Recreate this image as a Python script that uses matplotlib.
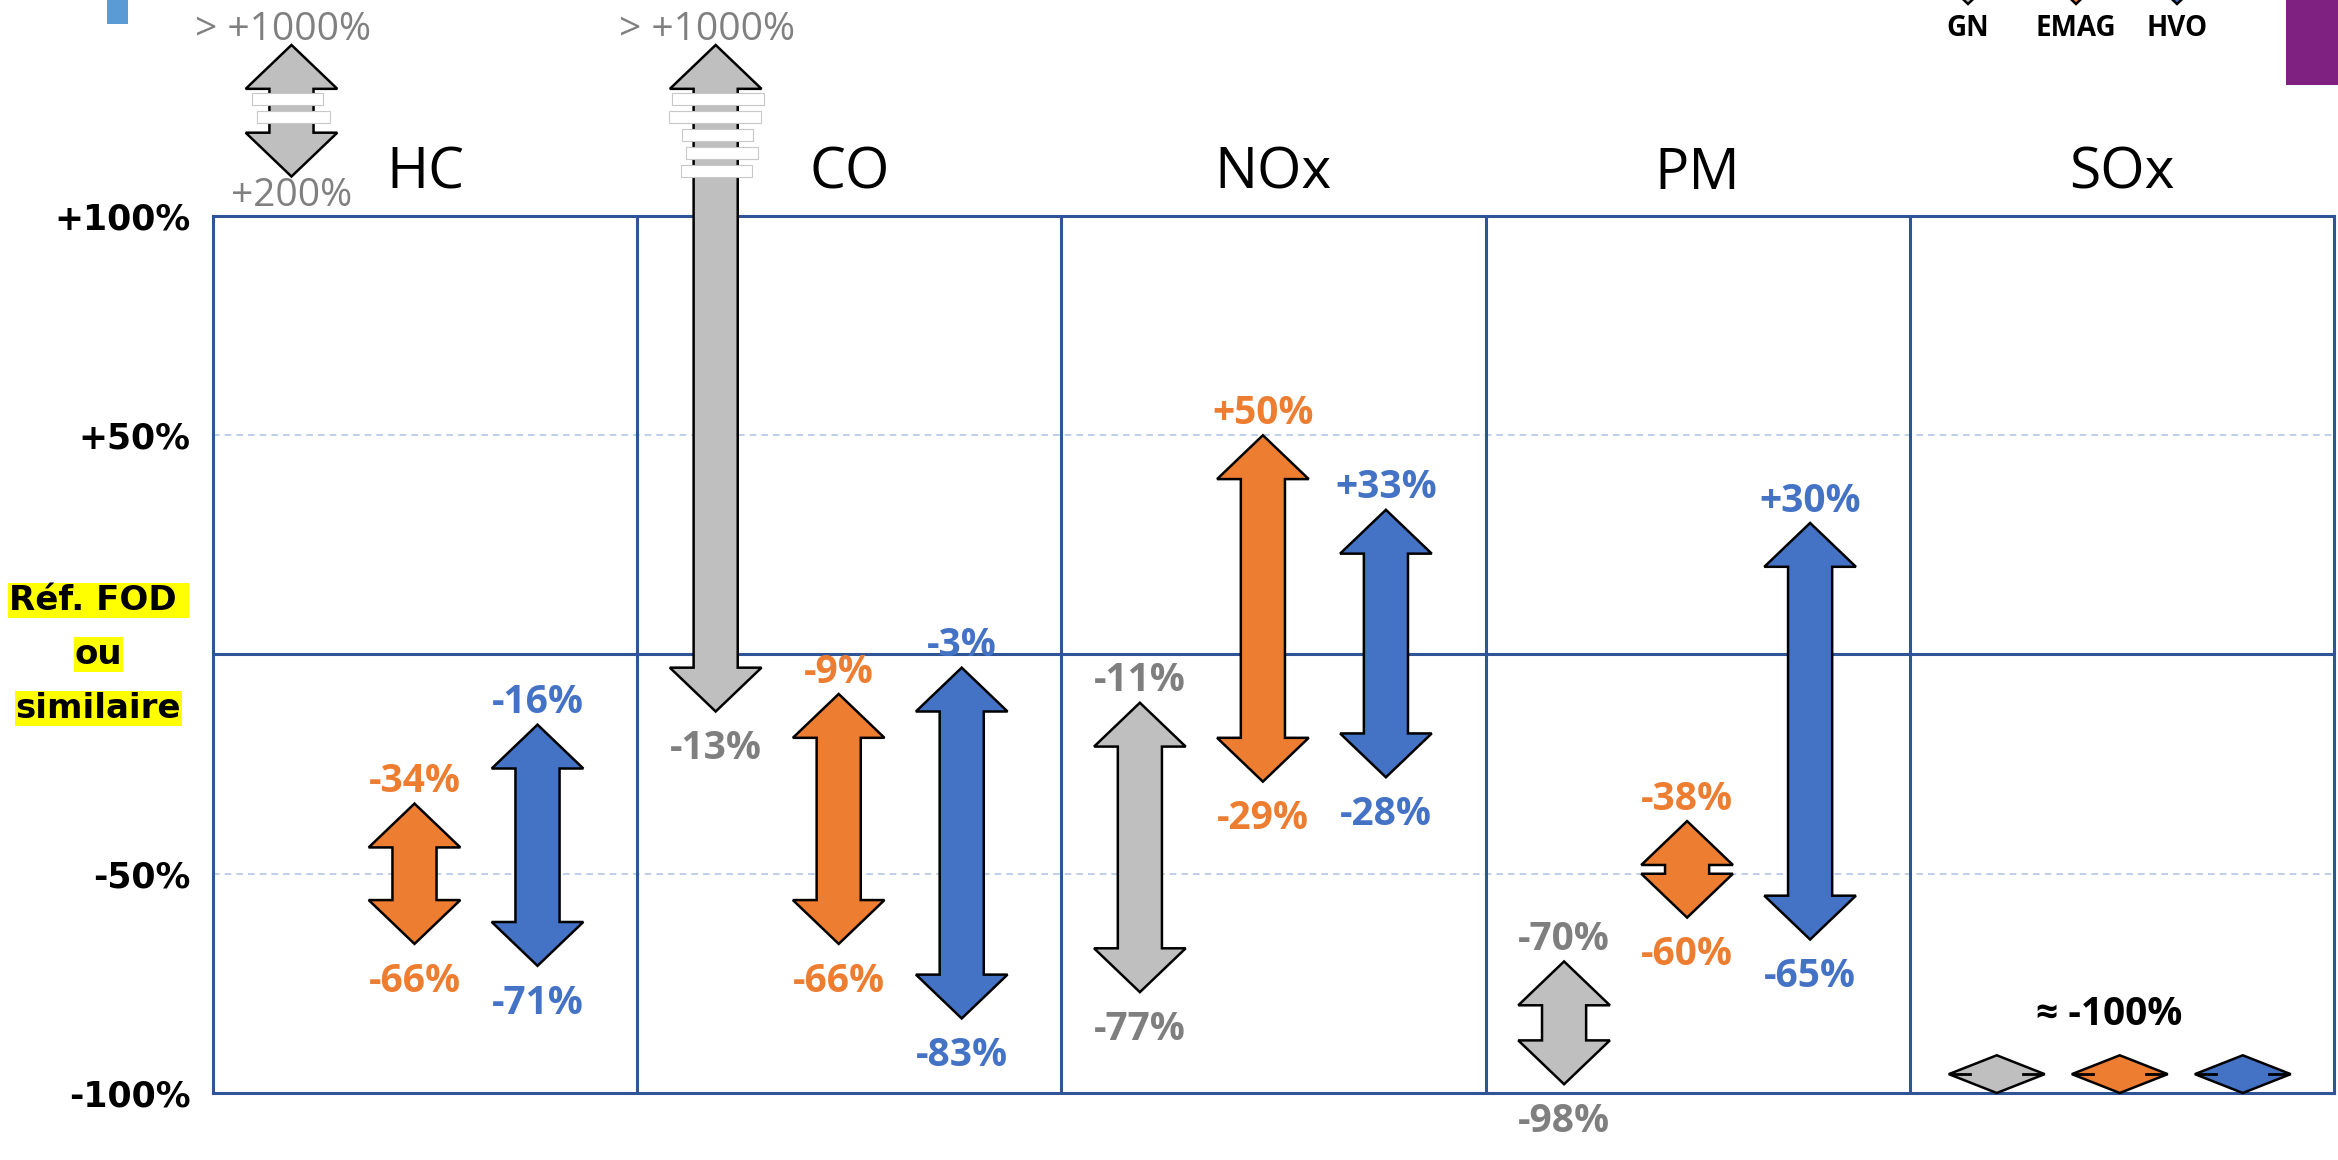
import numpy as np
import matplotlib.pyplot as plt
from matplotlib.patches import Polygon, Rectangle

plt.rcParams['font.family'] = ['Open Sans', 'DejaVu Sans']

# pollutants (columns) and fuels (arrows in each column)
pollutants = ["HC", "CO", "NOx", "PM", "SOx"]
fuels = ["GN", "EMAG", "HVO"]

# emission change vs reference fuel, in % (low end, high end of the range)
gn_low = [200, -13, -77, -98, -100]
gn_high = [1000, 1000, -11, -70, -100]
emag_low = [-66, -66, -29, -60, -100]
emag_high = [-34, -9, 50, -38, -100]
hvo_low = [-71, -83, -28, -65, -100]
hvo_high = [-16, -3, 33, 30, -100]

y_ticks = [-100, -50, 50, 100]
y_ticklabels = ["-100%", "-50%", "+50%", "+100%"]
ref_label = ["Réf. FOD ", "ou", "similaire"]

fill_colors = ["#BFBFBF", "#ED7D31", "#4472C4"]
text_colors = ["#7F7F7F", "#ED7D31", "#4472C4"]
frame_color = "#2F5597"

lows = [gn_low, emag_low, hvo_low]
highs = [gn_high, emag_high, hvo_high]
x_offsets = [0.185, 0.475, 0.765]


def ypos(v):
    # broken scale above +100 %
    return np.interp(v, [-100, 100, 200, 1000], [-100, 100, 109, 139])


def label_text(v):
    if v >= 1000:
        return "> +1000%"
    return f"{v:+d}%"


fig = plt.figure(figsize=(23.38, 11.6), dpi=100)
W, H = 2338, 1160
ax = fig.add_axes([213 / W, 1 - 1093 / H, (2334 - 213) / W, (1093 - 216) / H])
ax.set_xlim(0, 5)
ax.set_ylim(-100, 100)
for s in ax.spines.values():
    s.set_color(frame_color)
    s.set_linewidth(2.2)
ax.set_xticks([])
ax.set_yticks(y_ticks)
ax.set_yticklabels(y_ticklabels, fontsize=25, fontweight="bold", family="DejaVu Sans")
ax.tick_params(axis="y", length=0, pad=16)

for i in range(1, 5):
    ax.axvline(i, color=frame_color, lw=2.2, zorder=1)
ax.axhline(0, color=frame_color, lw=2.2, zorder=1)
for g in (-50, 50):
    ax.axhline(g, color="#B4C7E7", lw=1.2, ls=(0, (4, 3)), zorder=0)

# "Réf. FOD ou similaire" highlighted label on the zero line
for k, line in enumerate(ref_label):
    ax.text(-0.27, 0 + (1 - k) * 12.3, line, ha="center", va="center", fontsize=24.5,
            fontweight="bold", family="DejaVu Sans", color="black",
            bbox=dict(facecolor="#FFFF00", edgecolor="none", pad=0.8),
            clip_on=False)

# column titles
for i, p in enumerate(pollutants):
    ax.text(i + 0.5, 109.5, p, ha="center", va="center", fontsize=41, clip_on=False)

sw, hw, hl = 0.052, 0.108, 10.0


def double_arrow(c, lo, hi, color):
    pts = [(c, hi), (c + hw, hi - hl), (c + sw, hi - hl), (c + sw, lo + hl),
           (c + hw, lo + hl), (c, lo), (c - hw, lo + hl), (c - sw, lo + hl),
           (c - sw, hi - hl), (c - hw, hi - hl)]
    ax.add_patch(Polygon(pts, closed=True, facecolor=color, edgecolor="black",
                         lw=1.8, zorder=3, clip_on=False))


# break bars (white strips) on arrows crossing the broken scale: (dx_left, dx_right)
break_bars_hc = [(-0.092, 0.075), (-0.082, 0.090)]
break_bars_co = [(-0.104, 0.115), (-0.111, 0.106), (-0.080, 0.087), (-0.071, 0.099), (-0.082, 0.085)]

for i, p in enumerate(pollutants):
    if p == "SOx":
        continue
    for f in range(3):
        lo, hi = lows[f][i], highs[f][i]
        c = i + x_offsets[f]
        ylo, yhi = ypos(lo), ypos(hi)
        double_arrow(c, ylo, yhi, fill_colors[f])
        off_scale_lo = lo > 100
        # top label
        if hi > 100:
            ax.text(c - 0.02, yhi + 3.5, label_text(hi), ha="center", va="center",
                    fontsize=28, color="#808080", zorder=5, clip_on=False)
        else:
            ax.text(c, yhi + 5, label_text(hi), ha="center", va="center", fontsize=28,
                    color=text_colors[f], fontweight="bold", zorder=5, clip_on=False)
        # bottom label
        if off_scale_lo:
            ax.text(c, ylo - 4.5, f"+{lo}%", ha="center", va="center", fontsize=28,
                    color="#808080", zorder=5, clip_on=False)
        else:
            ax.text(c, ylo - 8.5, label_text(lo), ha="center", va="center", fontsize=28,
                    color=text_colors[f], fontweight="bold", zorder=5, clip_on=False)
        if hi > 100:
            bars = break_bars_hc if off_scale_lo else break_bars_co
            top = yhi - hl - 1.0
            for b, (dl, dr) in enumerate(bars):
                y0 = top - b * 4.1 - 2.6
                ax.add_patch(Rectangle((c + dl, y0), dr - dl, 2.6, facecolor="white",
                                       edgecolor="#C8C8C8", lw=0.8, zorder=4, clip_on=False))

# SOx: all fuels at about -100 %, drawn as flat diamonds
i = pollutants.index("SOx")
dw, dh = 0.113, 4.3
for f in range(3):
    v = lows[f][i]
    c = i + x_offsets[f] + 0.02
    yc = v + dh
    ax.add_patch(Polygon([(c - dw, yc), (c, yc + dh), (c + dw, yc), (c, yc - dh)],
                         closed=True, facecolor=fill_colors[f], edgecolor="black",
                         lw=1.8, zorder=3, clip_on=False))
    for side in (-1, 1):
        ax.plot([c + side * dw * 0.95, c + side * dw * 0.55], [yc, yc], color="black",
                lw=2, zorder=4, clip_on=False)
ax.text(i + 0.47, ypos(hvo_low[i]) + 18, "≈ -100%", ha="center", va="center",
        fontsize=28, fontweight="bold", color="black", zorder=5)

# decorations in pixel coordinates (legend at top right, slide marks)
deco = fig.add_axes([0, 0, 1, 1], zorder=10)
deco.set_xlim(0, W)
deco.set_ylim(H, 0)
deco.axis("off")
deco.patch.set_alpha(0)
deco.add_patch(Rectangle((107, 0), 21, 24, facecolor="#5B9BD5", edgecolor="none"))
deco.add_patch(Rectangle((2286, 0), 52, 85, facecolor="#7F2180", edgecolor="none"))
legend_x = [1968, 2076, 2177]
for f, name in enumerate(fuels):
    x = legend_x[f]
    deco.add_patch(Polygon([(x - 46, -40), (x + 46, -40), (x, 4)], closed=True,
                           facecolor=fill_colors[f], edgecolor="black", lw=1.8))
    deco.text(x, 29, name, ha="center", va="center", fontsize=20, fontweight="bold")

fig.savefig("out.png", dpi=100)
